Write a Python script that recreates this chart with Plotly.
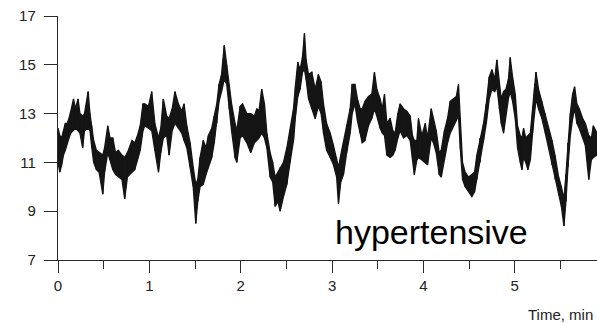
import plotly.graph_objects as go

# Time (min) and upper / lower envelope of the noisy pressure trace
t = [0.00, 0.02, 0.04, 0.06, 0.08, 0.10, 0.12, 0.14, 0.17, 0.19, 0.22, 0.24, 0.27, 0.29, 0.33, 0.35,
     0.37, 0.39, 0.42, 0.45, 0.49, 0.51, 0.545, 0.57, 0.60, 0.63, 0.66, 0.70, 0.73, 0.76, 0.81, 0.84,
     0.87, 0.90, 0.93, 0.95, 0.99, 1.026, 1.06, 1.10, 1.125, 1.153, 1.19, 1.216, 1.25, 1.28, 1.318,
     1.354, 1.38, 1.41, 1.446, 1.48, 1.508, 1.53, 1.555, 1.59, 1.62, 1.646, 1.683, 1.71, 1.738, 1.763,
     1.79, 1.82, 1.847, 1.873, 1.90, 1.938, 1.957, 1.994, 2.02, 2.067, 2.11, 2.15, 2.176, 2.20, 2.23,
     2.26, 2.286, 2.322, 2.35, 2.377, 2.406, 2.432, 2.468, 2.505, 2.54, 2.578, 2.60, 2.625, 2.65, 2.676,
     2.698, 2.716, 2.742, 2.778, 2.815, 2.85, 2.88, 2.906, 2.94, 2.98, 3.015, 3.05, 3.07, 3.095, 3.125,
     3.16, 3.198, 3.22, 3.25, 3.278, 3.307, 3.33, 3.36, 3.398, 3.435, 3.464, 3.49, 3.526, 3.55, 3.574,
     3.60, 3.636, 3.665, 3.69, 3.72, 3.745, 3.782, 3.818, 3.855, 3.88, 3.90, 3.928, 3.946, 3.983, 4.02,
     4.045, 4.085, 4.11, 4.14, 4.173, 4.195, 4.23, 4.264, 4.293, 4.33, 4.36, 4.384, 4.403, 4.428, 4.457,
     4.494, 4.53, 4.56, 4.585, 4.62, 4.658, 4.688, 4.72, 4.75, 4.78, 4.804, 4.83, 4.852, 4.877, 4.903,
     4.93, 4.95, 4.976, 5.005, 5.03, 5.06, 5.078, 5.096, 5.12, 5.144, 5.17, 5.195, 5.217, 5.232, 5.26,
     5.297, 5.334, 5.37, 5.407, 5.44, 5.48, 5.51, 5.538, 5.56, 5.582, 5.608, 5.633, 5.655, 5.68, 5.706,
     5.743, 5.772, 5.81, 5.838, 5.86, 5.90]

hi = [12.4, 12.1, 12.0, 12.3, 12.6, 12.6, 12.8, 13.1, 13.6, 13.2, 13.6, 13.0, 12.9, 13.0, 13.9, 13.0,
      12.5, 11.9, 11.5, 11.4, 11.3, 11.6, 12.5, 12.0, 12.0, 11.4, 11.5, 11.3, 11.2, 11.4, 11.9, 11.8,
      12.1, 12.5, 13.4, 13.4, 13.3, 13.9, 12.6, 12.0, 12.4, 13.6, 12.9, 12.8, 13.2, 13.9, 13.4,
      13.1, 13.4, 12.5, 11.8, 10.8, 10.1, 10.3, 11.2, 11.9, 11.6, 12.1, 12.4, 12.9, 13.4, 14.2,
      14.6, 15.8, 15.0, 14.2, 13.4, 12.6, 12.3, 13.3, 13.4, 13.0, 13.0, 12.9, 13.2, 13.1, 14.0,
      13.4, 12.2, 11.4, 11.0, 10.4, 10.6, 10.8, 11.0, 11.6, 12.3, 13.2, 14.2, 15.1, 14.8, 15.3,
      16.3, 15.2, 14.6, 14.7, 14.0, 14.6, 14.3, 13.4, 12.6, 12.2, 11.7, 11.2, 10.8, 11.3, 11.8,
      12.5, 13.2, 14.2, 14.2, 13.6, 13.2, 13.2, 13.5, 13.7, 13.8, 14.7, 14.0, 13.6, 13.2, 13.8,
      12.6, 12.8, 12.3, 12.2, 13.0, 13.4, 13.2, 13.1, 12.9, 12.1, 11.9, 11.9, 12.8, 12.1, 12.6,
      12.0, 13.2, 12.8, 12.3, 11.4, 11.5, 12.3, 12.8, 13.5, 13.6, 13.7, 14.2, 12.8, 11.0, 10.6,
      10.4, 10.5, 10.6, 11.3, 12.0, 12.6, 13.4, 14.5, 14.8, 14.4, 15.2, 14.2, 13.6, 13.9, 14.0,
      14.4, 15.3, 14.5, 13.8, 12.5, 12.1, 12.0, 12.4, 12.0, 12.1, 12.2, 13.2, 14.2, 14.7, 14.0,
      13.5, 13.0, 12.4, 11.9, 11.3, 10.4, 10.0, 9.5, 10.5, 11.8, 13.0, 13.8, 14.1, 13.4, 13.2,
      12.8, 12.6, 12.1, 12.0, 12.5, 12.2]

lo = [11.0, 10.6, 10.9, 11.3, 11.5, 11.8, 12.0, 12.2, 12.3, 12.4, 12.3, 12.2, 11.6, 12.3, 12.4, 12.3,
      11.6, 11.0, 10.7, 10.6, 9.7, 10.6, 11.4, 11.1, 10.7, 10.5, 10.4, 10.3, 9.5, 10.4, 10.6, 10.7,
      11.1, 11.5, 12.3, 12.5, 12.4, 12.3, 11.5, 10.6, 11.4, 12.0, 12.1, 11.3, 12.3, 12.6, 12.4,
      12.2, 11.9, 11.6, 10.8, 10.0, 8.5, 9.4, 10.0, 10.1, 10.5, 10.8, 11.2, 11.8, 12.6, 13.5,
      13.9, 14.4, 14.2, 13.2, 12.3, 11.2, 11.0, 12.0, 12.1, 11.8, 11.4, 11.8, 11.9, 12.0, 12.2,
      12.0, 11.6, 10.4, 10.2, 9.2, 9.4, 9.0, 9.6, 10.1, 11.0, 11.9, 12.9, 13.7, 14.0, 14.7,
      14.8, 14.4, 13.6, 13.2, 12.8, 13.3, 13.0, 12.2, 11.5, 11.2, 10.9, 10.4, 9.3, 10.2, 10.5,
      11.4, 12.2, 13.0, 13.4, 12.7, 12.2, 11.8, 11.9, 12.5, 12.8, 13.2, 12.9, 12.4, 12.2, 12.1,
      11.3, 11.2, 11.3, 11.5, 12.0, 12.3, 12.0, 12.1, 11.9, 11.2, 10.5, 11.1, 11.2, 11.1, 11.0,
      10.9, 12.0, 11.8, 11.4, 10.5, 10.4, 11.2, 11.8, 12.2, 12.5, 12.7, 12.9, 11.6, 10.3, 10.0,
      9.8, 9.6, 9.8, 10.3, 11.0, 11.9, 12.6, 13.6, 14.0, 13.9, 14.1, 13.2, 12.6, 12.2, 13.0,
      13.6, 13.9, 13.5, 12.8, 11.6, 11.0, 10.7, 11.2, 11.0, 10.7, 11.1, 12.2, 13.2, 13.6, 13.2,
      12.8, 12.2, 11.6, 10.9, 10.3, 9.7, 9.2, 8.4, 9.4, 10.8, 12.1, 12.8, 13.2, 12.6, 12.4,
      12.0, 11.7, 10.3, 11.1, 11.2, 11.3]

x_ticks = [0, 1, 2, 3, 4, 5]
y_ticks = [7, 9, 11, 13, 15, 17]
label_text = "hypertensive"
x_title = "Time, min"

FONT = "Liberation Sans, Arial, Helvetica, sans-serif"
INK = "#151515"
AX = "#2a2a2a"

# zigzag between the envelopes gives the dense hatched look of the recording
zig_x, zig_y = [], []
for ti, h, l in zip(t, hi, lo):
    zig_x += [ti, ti]
    zig_y += [h, l]

fig = go.Figure()
fig.add_trace(go.Scatter(x=t, y=hi, mode="lines", line=dict(color=INK, width=1.3),
                         hoverinfo="skip", showlegend=False))
fig.add_trace(go.Scatter(x=t, y=lo, mode="lines", line=dict(color=INK, width=1.3),
                         fill="tonexty", fillcolor=INK, hoverinfo="skip", showlegend=False))
fig.add_trace(go.Scatter(x=zig_x, y=zig_y, mode="lines", line=dict(color=INK, width=1),
                         hoverinfo="skip", showlegend=False))

fig.add_annotation(x=3.01, y=8.15, xref="x", yref="y", text=label_text, showarrow=False,
                   xanchor="left", yanchor="middle",
                   font=dict(family=FONT, size=34, color="#000"))
fig.add_annotation(x=1.0, y=-0.225, xref="paper", yref="paper", text=x_title,
                   showarrow=False, xanchor="right", yanchor="middle", xshift=-2,
                   font=dict(family=FONT, size=15, color="#222"))

fig.update_layout(
    width=597, height=323,
    margin=dict(l=58, r=0, t=16, b=63, pad=0),
    paper_bgcolor="white", plot_bgcolor="white",
    font=dict(family=FONT, color="#222"),
    xaxis=dict(range=[0, 5.9], tickvals=x_ticks, ticks="outside", ticklen=12, tickwidth=1.2,
               tickcolor=AX, showline=True, linecolor=AX, linewidth=1.4, showgrid=False,
               zeroline=False, tickfont=dict(size=15, color="#222"),
               minor=dict(dtick=0.5, ticks="outside", ticklen=8, tickwidth=1, tickcolor=AX)),
    yaxis=dict(range=[7, 17], tickvals=y_ticks, ticks="outside", ticklen=13, tickwidth=1.2,
               tickcolor=AX, showline=True, linecolor=AX, linewidth=1.4, showgrid=False,
               zeroline=False, tickfont=dict(size=15, color="#222"), ticklabelstandoff=5),
)

fig.write_html("out.html")
